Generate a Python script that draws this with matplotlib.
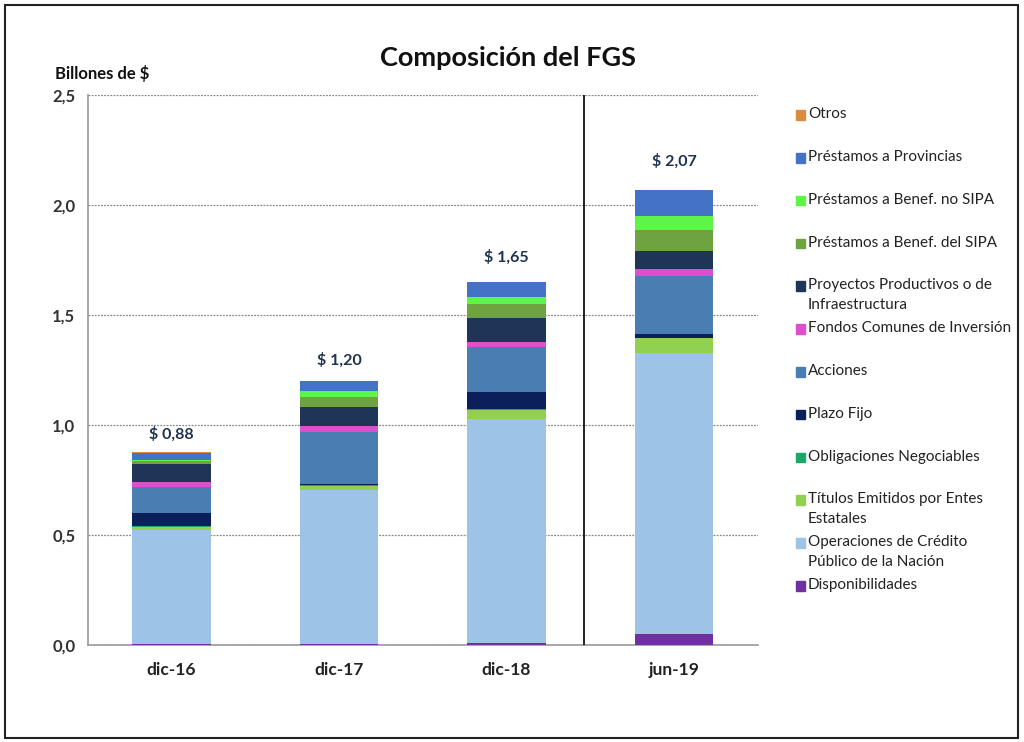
import numpy as np
import matplotlib.pyplot as plt
from matplotlib.patches import Rectangle

plt.rcParams['font.family'] = ['Lato', 'DejaVu Sans']

# Categories and series (bottom of the stack first), billones de $
periods = ['dic-16', 'dic-17', 'dic-18', 'jun-19']
totals_txt = ['$ 0,88', '$ 1,20', '$ 1,65', '$ 2,07']

series_names = [
    'Disponibilidades',
    'Operaciones de Crédito\nPúblico de la Nación',
    'Títulos Emitidos por Entes\nEstatales',
    'Obligaciones Negociables',
    'Plazo Fijo',
    'Acciones',
    'Fondos Comunes de Inversión',
    'Proyectos Productivos o de\nInfraestructura',
    'Préstamos a Benef. del SIPA',
    'Préstamos a Benef. no SIPA',
    'Préstamos a Provincias',
    'Otros',
]

disponibilidades = [0.003, 0.004, 0.010, 0.050]
operaciones = [0.520, 0.700, 1.017, 1.276]
titulos = [0.015, 0.020, 0.042, 0.068]
obligaciones = [0.005, 0.004, 0.003, 0.003]
plazo_fijo = [0.055, 0.004, 0.076, 0.018]
acciones = [0.120, 0.235, 0.205, 0.262]
fondos = [0.025, 0.027, 0.026, 0.030]
proyectos = [0.080, 0.087, 0.106, 0.086]
benef_sipa = [0.012, 0.045, 0.064, 0.095]
benef_no_sipa = [0.005, 0.027, 0.035, 0.061]
provincias = [0.035, 0.045, 0.064, 0.118]
otros = [0.001, 0.001, 0.001, 0.001]

values = [disponibilidades, operaciones, titulos, obligaciones, plazo_fijo,
          acciones, fondos, proyectos, benef_sipa, benef_no_sipa,
          provincias, otros]

colors = ['#7030A0', '#9DC3E6', '#92D050', '#1BA866', '#0B1F5A', '#4A7EB3',
          '#DD4FCC', '#1F3557', '#6FA33F', '#5EF548', '#4472C4', '#D98B3E']

fig = plt.figure(figsize=(10.24, 7.42), dpi=100)
ax = fig.add_axes([0.0857, 0.1307, 0.6543, 0.7413])

x = np.arange(len(periods))
bottom = np.zeros(len(periods))
for vals, col in zip(values, colors):
    ax.bar(x, vals, width=0.47, bottom=bottom, color=col, zorder=3)
    bottom += np.array(vals)

# total labels above each bar (taller bars sit a bit further off)
for xi, top, txt in zip(x, bottom, totals_txt):
    ax.annotate(txt, (xi, top), xytext=(0, 2 + 6.5 * top), textcoords='offset points',
                ha='center', va='bottom', fontsize=11.5, fontweight='bold',
                color='#1F3350')

ax.set_xlim(-0.5, 3.5)
ax.set_ylim(0, 2.5)
yt = np.arange(0, 2.51, 0.5)
ax.set_yticks(yt)
ax.set_yticklabels([f'{v:.1f}'.replace('.', ',') for v in yt],
                   fontsize=12, fontweight='bold', color='#333333')
ax.set_xticks(x)
ax.set_xticklabels(periods, fontsize=12.5, fontweight='bold', color='#222222')
ax.tick_params(axis='x', length=0, pad=12)
ax.tick_params(axis='y', length=0, pad=9)

ax.grid(axis='y', color='#888888', linestyle=(0, (1.5, 1)), linewidth=0.9, zorder=0)
for s in ['top', 'right']:
    ax.spines[s].set_visible(False)
for s in ['left', 'bottom']:
    ax.spines[s].set_color('#999999')
    ax.spines[s].set_linewidth(1.2)

# separator between annual and half-year data
ax.axvline(2.46, color='#111111', linewidth=1.3, zorder=4)

fig.text(0.496, 0.922, 'Composición del FGS', ha='center', va='center',
         fontsize=19.5, fontweight='bold', color='#111111')
fig.text(0.054, 0.901, 'Billones de $', ha='left', va='center',
         fontsize=12, fontweight='bold', color='#111111')

# legend drawn by hand, top entry first
y0 = 1 - 115 / 742
step = 42.8 / 742
for i, (name, col) in enumerate(zip(series_names[::-1], colors[::-1])):
    yy = y0 - i * step
    fig.patches.append(Rectangle((0.7770, yy - 0.0065), 0.0095, 0.013,
                                 transform=fig.transFigure, color=col))
    fig.text(0.789, yy + 0.0105, name, ha='left', va='top', fontsize=11,
             color='#222222', linespacing=1.55)

# outer frame
fig.patches.append(Rectangle((0.005, 0.005), 0.989, 0.988, transform=fig.transFigure,
                             fill=False, edgecolor='#222222', linewidth=1.5))

fig.savefig('out.png', dpi=100)
